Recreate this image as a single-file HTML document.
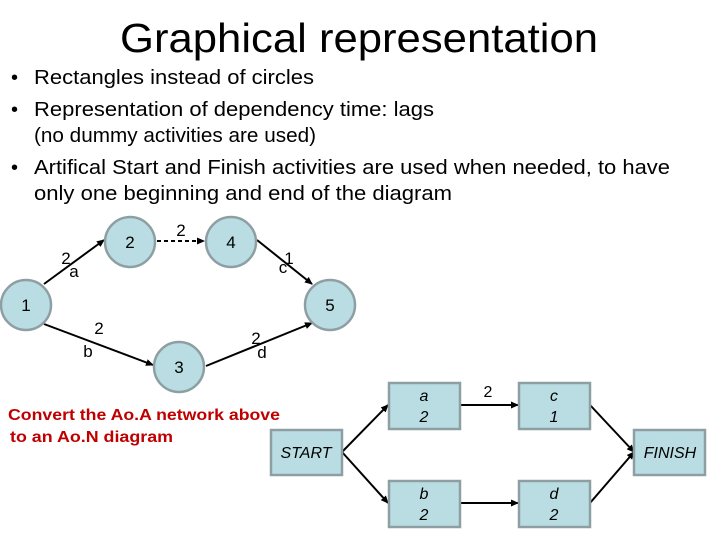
<!DOCTYPE html>
<html><head><meta charset="utf-8"><style>
html,body{margin:0;padding:0;background:#fff;}
svg{display:block;font-family:"Liberation Sans",Arial,sans-serif;}
</style></head><body>
<svg width="720" height="540" viewBox="0 0 720 540" xmlns="http://www.w3.org/2000/svg">
<defs>
<marker id="ar" markerWidth="8" markerHeight="8" refX="7" refY="4" orient="auto" markerUnits="userSpaceOnUse">
<path d="M0,0.5 L8,4 L0,7.5 z" fill="#000"/></marker>
</defs>
<text x="359" y="52" font-size="41" text-anchor="middle" textLength="478" lengthAdjust="spacingAndGlyphs">Graphical representation</text>
<g font-size="20">
<text x="11" y="84">•</text><text x="34" y="84" textLength="280" lengthAdjust="spacingAndGlyphs">Rectangles instead of circles</text>
<text x="11" y="116">•</text><text x="34" y="116" textLength="400" lengthAdjust="spacingAndGlyphs">Representation of dependency time: lags</text>
<text x="34" y="142" textLength="282" lengthAdjust="spacingAndGlyphs">(no dummy activities are used)</text>
<text x="11" y="174">•</text><text x="34" y="174" textLength="636" lengthAdjust="spacingAndGlyphs">Artifical Start and Finish activities are used when needed, to have</text>
<text x="34" y="200" textLength="418" lengthAdjust="spacingAndGlyphs">only one beginning and end of the diagram</text>
</g>
<g stroke="#000" stroke-width="2" fill="none">
<line x1="44" y1="284" x2="104" y2="240" marker-end="url(#ar)"/>
<line x1="157" y1="241" x2="204" y2="241" stroke-dasharray="4,3" marker-end="url(#ar)"/>
<line x1="257" y1="240" x2="312" y2="284" marker-end="url(#ar)"/>
<line x1="44" y1="324" x2="153" y2="365" marker-end="url(#ar)"/>
<line x1="206" y1="366" x2="312" y2="323" marker-end="url(#ar)"/>
</g>
<g fill="#b9dde2" stroke="#8e9fa3" stroke-width="2.5">
<circle cx="26" cy="305" r="25"/><circle cx="130" cy="242" r="25"/>
<circle cx="231" cy="242" r="25"/><circle cx="330" cy="305" r="25"/>
<circle cx="179" cy="367" r="25"/>
</g>
<g font-size="17" text-anchor="middle">
<text x="26" y="311">1</text><text x="130" y="248">2</text><text x="231" y="248">4</text>
<text x="330" y="311">5</text><text x="179" y="373">3</text>
<text x="66" y="264">2</text><text x="74" y="277">a</text>
<text x="181" y="236">2</text>
<text x="289" y="264">1</text><text x="283" y="273">c</text>
<text x="99" y="334">2</text><text x="88" y="357">b</text>
<text x="256" y="344">2</text><text x="262" y="358">d</text>
</g>
<g font-size="16" font-weight="bold" fill="#c00000">
<text x="8" y="420" textLength="272" lengthAdjust="spacingAndGlyphs">Convert the Ao.A network above</text>
<text x="10" y="442" textLength="163" lengthAdjust="spacingAndGlyphs">to an Ao.N diagram</text>
</g>
<g stroke="#000" stroke-width="2" fill="none">
<line x1="342" y1="452" x2="388" y2="405" marker-end="url(#ar)"/>
<line x1="342" y1="452" x2="388" y2="503" marker-end="url(#ar)"/>
<line x1="460" y1="405" x2="518" y2="405" marker-end="url(#ar)"/>
<line x1="459" y1="503" x2="518" y2="503" marker-end="url(#ar)"/>
<line x1="590" y1="405" x2="634" y2="452" marker-end="url(#ar)"/>
<line x1="590" y1="503" x2="634" y2="452" marker-end="url(#ar)"/>
</g>
<g fill="#b9dde2" stroke="#8e9fa3" stroke-width="2.5">
<rect x="389" y="383" width="71" height="46"/><rect x="519" y="383" width="71" height="46"/>
<rect x="271" y="430" width="71" height="45"/><rect x="634" y="430" width="71" height="45"/>
<rect x="389" y="481" width="71" height="46"/><rect x="519" y="481" width="71" height="46"/>
</g>
<g font-size="16" text-anchor="middle" font-style="italic">
<text x="424" y="401">a</text><text x="424" y="422">2</text>
<text x="554" y="401">c</text><text x="554" y="422">1</text>
<text x="424" y="499">b</text><text x="424" y="520">2</text>
<text x="554" y="499">d</text><text x="554" y="520">2</text>
<text x="306" y="458">START</text><text x="670" y="458">FINISH</text>
</g>
<text x="488" y="397" font-size="16" text-anchor="middle">2</text>
</svg>
</body></html>
